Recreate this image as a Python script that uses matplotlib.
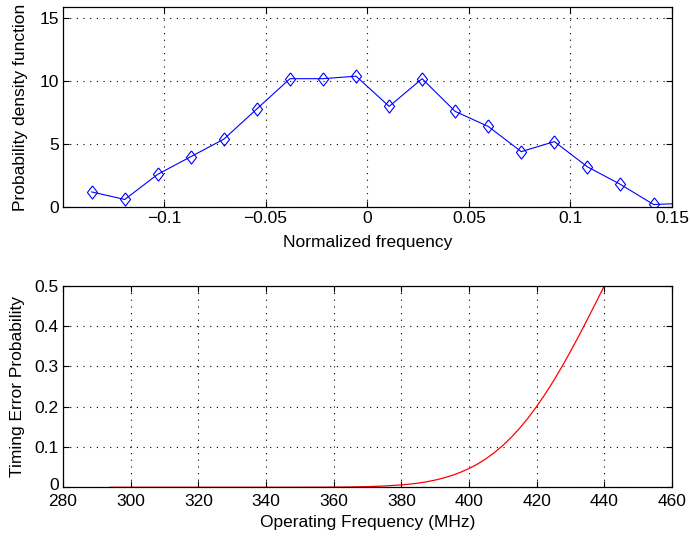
import numpy as np
import matplotlib
matplotlib.use("Agg")
import matplotlib.pyplot as plt
import matplotlib.transforms as mtransforms
from matplotlib.ticker import FuncFormatter

plt.rcParams['font.family'] = ['Liberation Sans', 'DejaVu Sans']
plt.rcParams['font.size'] = 12.5

# top panel: pdf of normalized frequency
norm_freq = [-0.1356, -0.1193, -0.1031, -0.0868, -0.0705, -0.0543, -0.0380,
             -0.0218, -0.0055, 0.0108, 0.0270, 0.0433, 0.0596, 0.0758,
             0.0921, 0.1083, 0.1246, 0.1409, 0.1571]
pdf_vals = [1.2, 0.6, 2.6, 4.0, 5.4, 7.8, 10.2, 10.2, 10.4, 8.0, 10.2, 7.6,
            6.4, 4.4, 5.2, 3.2, 1.8, 0.2, 0.3]

# bottom panel: timing error probability vs operating frequency
op_freq = [294, 300, 310, 320, 330, 340, 350, 355, 360, 365, 370, 375, 380,
           382.5, 385, 387.5, 390, 392.5, 395, 397.5, 400, 402.5, 405, 407.5,
           410, 412.5, 415, 417.5, 420, 422.5, 425, 427.5, 430, 432.5, 435,
           437.5, 440]
err_prob = [0.0, 0.0, 0.0, 0.0, 0.0, 0.0, 0.0001, 0.0002, 0.0004, 0.0008,
            0.0016, 0.0032, 0.0059, 0.0079, 0.0104, 0.0137, 0.0179, 0.0231,
            0.0294, 0.0372, 0.0465, 0.0576, 0.0708, 0.0861, 0.1038, 0.1240,
            0.1469, 0.1724, 0.2005, 0.2313, 0.2643, 0.2998, 0.3372, 0.3764,
            0.4168, 0.4581, 0.5]


def fmt(v, pos):
    return ('%g' % v).replace('-', '\u2212')


def matlab_style(ax):
    ax.grid(True, linestyle=(0, (1, 5)), color='black', linewidth=0.8)
    ax.tick_params(direction='in', top=True, right=True, length=4, width=0.8,
                   pad=3)
    for s in ax.spines.values():
        s.set_linewidth(0.9)
    ax.xaxis.set_major_formatter(FuncFormatter(fmt))
    ax.yaxis.set_major_formatter(FuncFormatter(fmt))


fig = plt.figure(figsize=(6.9, 5.37), dpi=100)

ax1 = fig.add_axes([0.0913, 0.6145, 0.8827, 0.3725])
diamond = [(0, 1), (0.77, 0), (0, -1), (-0.77, 0), (0, 1)]
ax1.plot(norm_freq, pdf_vals, color='blue', linewidth=0.8, marker=diamond,
         markersize=9.5, markerfacecolor='none', markeredgecolor='blue',
         markeredgewidth=0.8)
ax1.set_xlim(-0.1497, 0.15)
ax1.set_ylim(0, 15.9)
ax1.set_xticks([-0.1, -0.05, 0, 0.05, 0.1, 0.15])
ax1.set_yticks([0, 5, 10, 15])
ax1.set_xlabel('Normalized frequency', labelpad=6)
ax1.set_ylabel('Probability density function', labelpad=8)
matlab_style(ax1)

ax2 = fig.add_axes([0.0913, 0.0926, 0.8827, 0.3754])
ax2.plot(op_freq, err_prob, color='red', linewidth=0.9)
ax2.set_xlim(280, 460)
ax2.set_ylim(0, 0.5)
ax2.set_xticks(np.arange(280, 461, 20))
ax2.set_yticks([0, 0.1, 0.2, 0.3, 0.4, 0.5])
ax2.set_xlabel('Operating Frequency (MHz)', labelpad=4)
ax2.set_ylabel('Timing Error Probability', labelpad=7)
matlab_style(ax2)
ax2.tick_params(axis='x', pad=5)

# nudge the "0" y label up a bit so it doesn't sit on top of "280"
fig.canvas.draw()
zero_lbl = ax2.get_yticklabels()[0]
zero_lbl.set_transform(zero_lbl.get_transform() +
                       mtransforms.ScaledTranslation(0, 2 / 72, fig.dpi_scale_trans))

fig.savefig('out.png', dpi=100)
